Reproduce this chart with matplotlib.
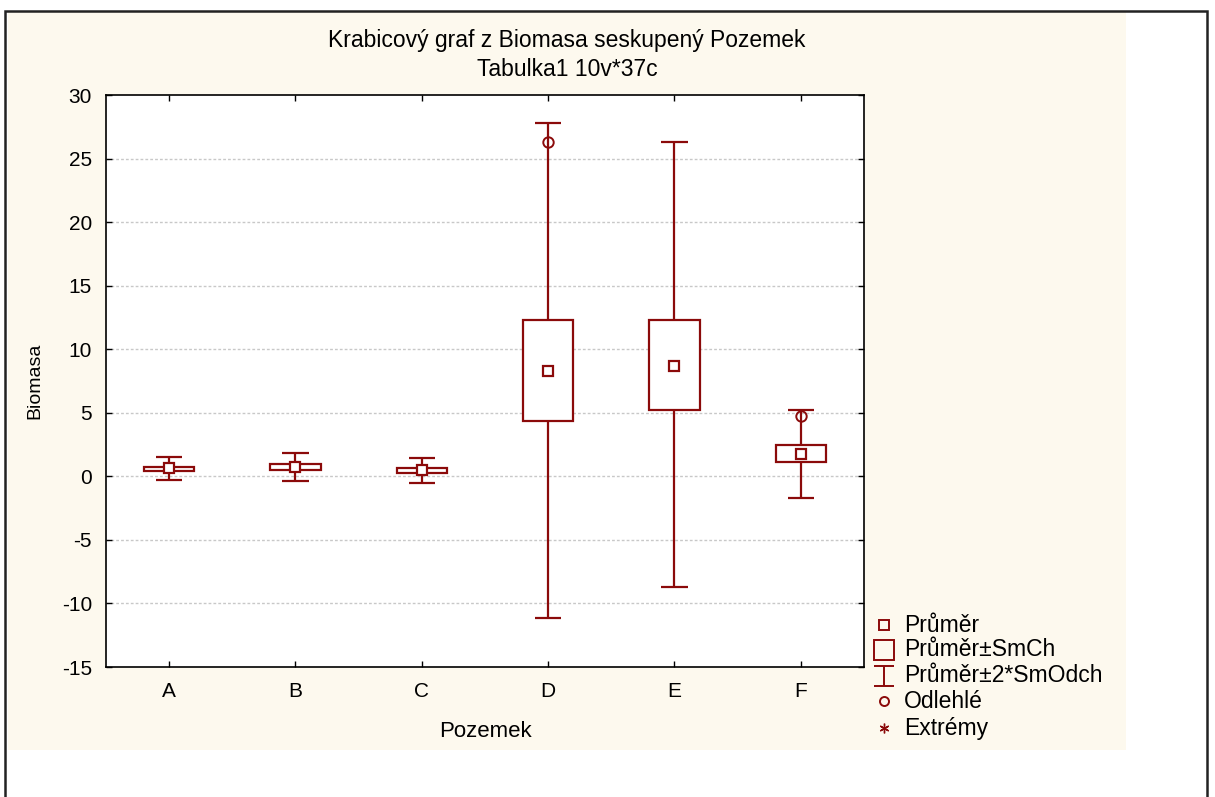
import matplotlib
matplotlib.use("Agg")
import matplotlib.pyplot as plt
from matplotlib.patches import Rectangle
from matplotlib.lines import Line2D
from matplotlib.path import Path

# Biomasa per Pozemek: mean, mean +/- SE box, mean +/- 2*SD whiskers
categories = ["A", "B", "C", "D", "E", "F"]
means = [0.63, 0.74, 0.46, 8.32, 8.70, 1.78]
box_lo = [0.39, 0.50, 0.26, 4.33, 5.19, 1.10]
box_hi = [0.76, 0.97, 0.65, 12.27, 12.27, 2.49]
whisk_lo = [-0.28, -0.37, -0.52, -11.17, -8.73, -1.70]
whisk_hi = [1.50, 1.83, 1.42, 27.77, 26.28, 5.25]

# outliers (category, value)
outlier_cat = ["D", "F"]
outlier_val = [26.28, 4.75]

y_ticks = [30, 25, 20, 15, 10, 5, 0, -5, -10, -15]

legend_labels = ["Průměr", "Průměr±SmCh", "Průměr±2*SmOdch", "Odlehlé", "Extrémy"]

red = "#8b0a0a"
cream = "#fdf9ee"

plt.rcParams["font.family"] = ["Liberation Sans", "DejaVu Sans"]

fig = plt.figure(figsize=(12.15, 7.97), dpi=100)
fig.patch.set_facecolor("white")

# cream background panel and outer frame
fig.add_artist(Rectangle((0.0066, 0.059), 0.920, 0.926, transform=fig.transFigure,
                         facecolor=cream, edgecolor="none", zorder=-2))
fig.add_artist(Rectangle((0.0041, -0.2), 0.9893, 1.186, transform=fig.transFigure,
                         facecolor="none", edgecolor="#222222", linewidth=1.8, zorder=-1))

ax = fig.add_axes([0.0872, 0.1631, 0.6239, 0.7177])
ax.set_facecolor("white")

pos = {c: i + 1 for i, c in enumerate(categories)}
x = [pos[c] for c in categories]
box_w = 0.40
cap_w = 0.21

# whiskers (from box edge outwards) and caps
ax.vlines(x, box_hi, whisk_hi, color=red, linewidth=1.6, zorder=2)
ax.vlines(x, whisk_lo, box_lo, color=red, linewidth=1.6, zorder=2)
ax.hlines(whisk_hi, [v - cap_w / 2 for v in x], [v + cap_w / 2 for v in x],
          color=red, linewidth=1.6, zorder=2)
ax.hlines(whisk_lo, [v - cap_w / 2 for v in x], [v + cap_w / 2 for v in x],
          color=red, linewidth=1.6, zorder=2)

# boxes
for xi, lo, hi in zip(x, box_lo, box_hi):
    ax.add_patch(Rectangle((xi - box_w / 2, lo), box_w, hi - lo, facecolor="white",
                           edgecolor=red, linewidth=1.6, zorder=3))

# means
ax.plot(x, means, ls="none", marker="s", ms=7.5, mfc="white", mec=red, mew=1.6, zorder=4)

# outliers
ax.plot([pos[c] for c in outlier_cat], outlier_val, ls="none", marker="o", ms=7.5,
        mfc="none", mec=red, mew=1.4, zorder=4)

ax.set_xlim(0.5, 6.5)
ax.set_ylim(-15, 30)
ax.set_xticks(x)
ax.set_xticklabels(categories)
ax.set_yticks(y_ticks)
ax.set_yticklabels([str(t) for t in y_ticks])
ax.tick_params(direction="in", length=4, width=1, labelsize=15, top=True, right=True,
               colors="black")
ax.tick_params(axis="y", pad=10)
ax.tick_params(axis="x", pad=11)

for t in y_ticks[1:-1]:
    ax.axhline(t, color="#c8c8c8", linestyle=(0, (2, 1.5)), linewidth=1, zorder=0)

for s in ax.spines.values():
    s.set_linewidth(1.2)
    s.set_color("black")

ax.set_xlabel("Pozemek", fontsize=16)
ax.set_ylabel("Biomasa", fontsize=14)
ax.xaxis.set_label_coords(0.5, -0.112)
ax.yaxis.set_label_coords(-0.094, 0.5)
ax.xaxis.label.set_va("center")
ax.yaxis.label.set_va("center")

fig.text(0.4667, 0.949, "Krabicový graf z Biomasa seskupený Pozemek", ha="center",
         va="center", fontsize=16.5)
fig.text(0.4667, 0.913, "Tabulka1 10v*37c", ha="center", va="center", fontsize=16.5)

# legend symbols drawn by hand
ibeam = Path([(-0.5, 0.5), (0.5, 0.5), (0, 0.5), (0, -0.5), (-0.5, -0.5), (0.5, -0.5)],
             [Path.MOVETO, Path.LINETO, Path.MOVETO, Path.LINETO, Path.MOVETO, Path.LINETO])
symbols = [
    dict(marker="s", ms=6.5, mfc="none", mew=1.4),
    dict(marker="s", ms=14.5, mfc="none", mew=1.4),
    dict(marker=ibeam, ms=14, mfc="none", mew=1.4),
    dict(marker="o", ms=6.5, mfc="none", mew=1.4),
    dict(marker=(6, 2, 0), ms=7, mew=1.0),
]
row_y = [625, 650, 676, 701, 728]
for lab, sym, yy in zip(legend_labels, symbols, row_y):
    yf = 1 - yy / 797
    fig.add_artist(Line2D([884 / 1215], [yf], transform=fig.transFigure, ls="none",
                          mec=red, color=red, **sym))
    fig.text(904 / 1215, yf, lab, ha="left", va="center", fontsize=16.5)

fig.savefig("out.png", dpi=100)
